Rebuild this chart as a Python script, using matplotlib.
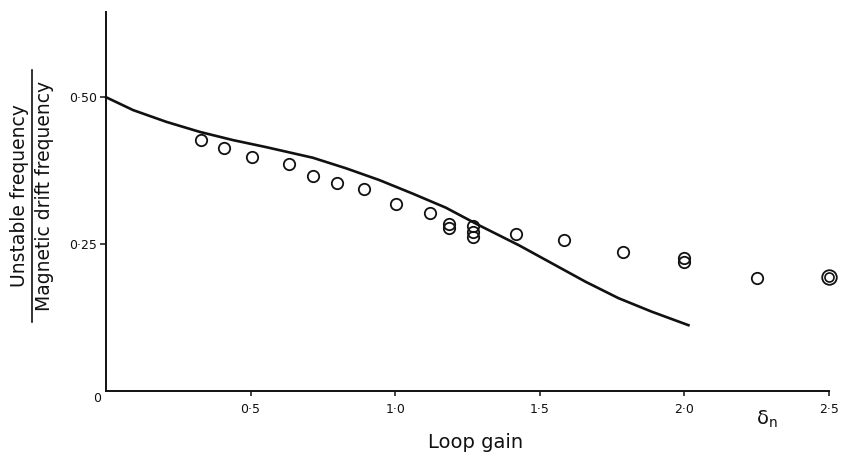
import matplotlib
matplotlib.use("Agg")
import matplotlib.pyplot as plt
from matplotlib.lines import Line2D

# Theory curve
theory_x = [0.0, 0.094, 0.209, 0.324, 0.439, 0.554, 0.715, 0.830, 0.945,
            1.060, 1.175, 1.290, 1.428, 1.543, 1.658, 1.772, 1.887, 2.014]
theory_y = [0.500, 0.478, 0.458, 0.441, 0.427, 0.415, 0.397, 0.379, 0.359,
            0.336, 0.312, 0.282, 0.248, 0.217, 0.186, 0.158, 0.135, 0.112]

# Experimental points
exp_x = [0.330, 0.408, 0.506, 0.634, 0.715, 0.799, 0.893, 1.002, 1.121,
         1.186, 1.186, 1.269, 1.269, 1.269, 1.416, 1.585, 1.787, 1.999, 1.999,
         2.252]
exp_y = [0.428, 0.414, 0.398, 0.386, 0.366, 0.354, 0.344, 0.319, 0.303,
         0.285, 0.278, 0.281, 0.270, 0.262, 0.268, 0.257, 0.237, 0.226, 0.220,
         0.192]
# Doubly-ringed point
ring_x = [2.499]
ring_y = [0.194]

x_ticks = [0.5, 1.0, 1.5, 2.0, 2.5]
x_tick_labels = ["0·5", "1·0", "1·5", "2·0", "2·5"]
y_ticks = [0.25, 0.50]
y_tick_labels = ["0·25", "0·50"]

fig = plt.figure(figsize=(8.42, 4.62), dpi=100)
ax = fig.add_axes([106 / 842, 1 - 391 / 462, (829 - 106) / 842, (391 - 12) / 462])
ax.set_xlim(0, 2.5)
ax.set_ylim(0, 0.645)

for s in ["top", "right"]:
    ax.spines[s].set_visible(False)
for s in ["left", "bottom"]:
    ax.spines[s].set_linewidth(1.4)
    ax.spines[s].set_color("#111111")

ax.plot(theory_x, theory_y, color="#111111", lw=1.9, clip_on=False, zorder=3,
        solid_joinstyle="round")
ax.plot(exp_x, exp_y, linestyle="none", marker="o", ms=8.2, mfc="none",
        mec="#111111", mew=1.3, clip_on=False, zorder=4)
ax.plot(ring_x, ring_y, linestyle="none", marker="o", ms=10.5, mfc="none",
        mec="#111111", mew=1.3, clip_on=False, zorder=4)
ax.plot(ring_x, ring_y, linestyle="none", marker="o", ms=6.5, mfc="none",
        mec="#111111", mew=1.2, clip_on=False, zorder=4)

ax.set_xticks(x_ticks)
ax.set_xticklabels(x_tick_labels)
ax.set_yticks(y_ticks)
ax.set_yticklabels(y_tick_labels)
ax.tick_params(axis="x", direction="out", length=3.5, width=1.1, pad=5,
               labelsize=9, colors="#111111")
ax.tick_params(axis="y", direction="out", length=4.3, width=1.1, pad=2,
               labelsize=9, colors="#111111")

# origin label
fig.text(97.5 / 842, 1 - 399 / 462, "0", ha="center", va="center",
         fontsize=9, color="#111111")

# x-axis label and delta_n
fig.text(476 / 842, 1 - 442 / 462, "Loop gain", ha="center", va="center",
         fontsize=14, color="#111111")
fig.text(767 / 842, 1 - 419 / 462, r"$\mathregular{\delta_n}$", ha="center",
         va="center", fontsize=14, color="#111111")

# y-axis fractional label
fig.text(19.5 / 842, 1 - 196 / 462, "Unstable frequency", rotation=90,
         ha="center", va="center", fontsize=13.5, color="#111111")
fig.text(45 / 842, 1 - 196 / 462, "Magnetic drift frequency", rotation=90,
         ha="center", va="center", fontsize=13.5, color="#111111")
fig.add_artist(Line2D([32 / 842, 32 / 842], [1 - 322 / 462, 1 - 70 / 462],
                      transform=fig.transFigure, color="#111111", lw=1.2))

fig.savefig("out.png", dpi=100)
